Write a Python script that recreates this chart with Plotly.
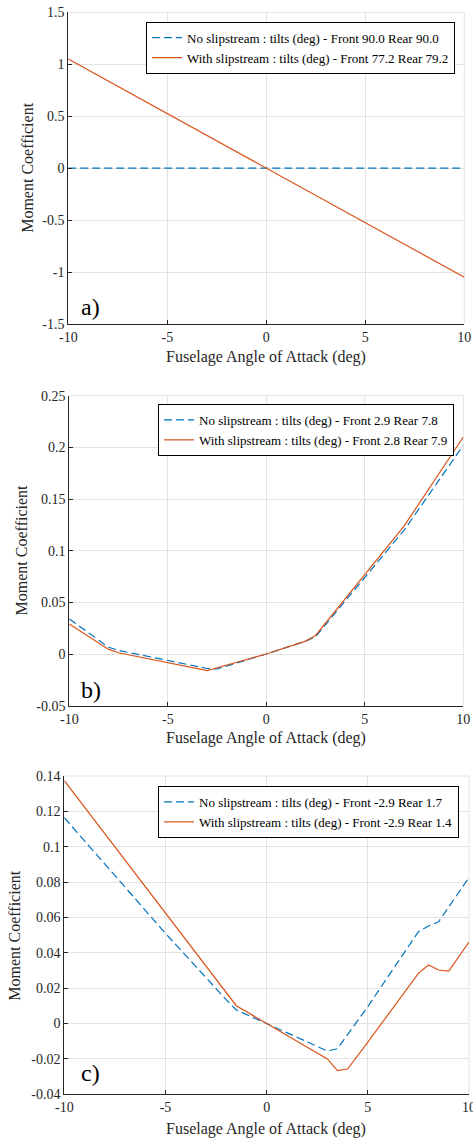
import plotly.graph_objects as go

# ---------------- data ----------------
a_x = [-10, -5, 0, 5, 10]
a_no = [0, 0, 0, 0, 0]
a_with = [1.05, 0.525, 0, -0.525, -1.05]

b_x = [-10, -8, -7.5, -3, -2.5, 0, 2, 2.5, 7, 10]
b_no = [0.034, 0.0065, 0.0035, -0.014, -0.0145, 0, 0.0125, 0.0168, 0.120, 0.202]
b_with = [0.029, 0.0045, 0.0012, -0.016, -0.0133, 0, 0.0125, 0.0180, 0.124, 0.210]

c_x = [-10, -5, -2, -1.5, 0, 2.5, 3, 3.5, 4, 5, 7.5, 8, 8.5, 9, 10]
c_no = [0.1164, 0.051, 0.0135, 0.0077, 0, -0.0129, -0.0155, -0.0142, -0.0063, 0.0096, 0.052, 0.0552, 0.0576, 0.066, 0.0827]
c_with = [0.1374, 0.0625, 0.0176, 0.0101, 0, -0.0164, -0.020, -0.0266, -0.0257, -0.0105, 0.0284, 0.0331, 0.0303, 0.0297, 0.0461]

names_a = ["No slipstream : tilts (deg) - Front 90.0 Rear 90.0",
           "With slipstream : tilts (deg) - Front 77.2 Rear 79.2"]
names_b = ["No slipstream : tilts (deg) - Front 2.9 Rear 7.8",
           "With slipstream : tilts (deg) - Front 2.8 Rear 7.9"]
names_c = ["No slipstream : tilts (deg) - Front -2.9 Rear 1.7",
           "With slipstream : tilts (deg) - Front -2.9 Rear 1.4"]

x_ticks = [-10, -5, 0, 5, 10]
x_ticktext = ["-10", "-5", "0", "5", "10"]
a_yticks = [-1.5, -1, -0.5, 0, 0.5, 1, 1.5]
a_yticktext = ["-1.5", "-1", "-0.5", "0", "0.5", "1", "1.5"]
b_yticks = [-0.05, 0, 0.05, 0.1, 0.15, 0.2, 0.25]
b_yticktext = ["-0.05", "0", "0.05", "0.1", "0.15", "0.2", "0.25"]
c_yticks = [-0.04, -0.02, 0, 0.02, 0.04, 0.06, 0.08, 0.1, 0.12, 0.14]
c_yticktext = ["-0.04", "-0.02", "0", "0.02", "0.04", "0.06", "0.08", "0.1", "0.12", "0.14"]

panel_labels = ["a)", "b)", "c)"]
x_title = "Fuselage Angle of Attack (deg)"
y_title = "Moment Coefficient"

# ---------------- style ----------------
BLUE = "#0072BD"
ORANGE = "#D95319"
AX = "#262626"
GRID = "#e3e3e3"
FONT = "Liberation Serif"

W, H = 473, 1140
panels = [
    dict(x=a_x, no=a_no, wi=a_with, names=names_a, yr=[-1.5, 1.5], yt=a_yticks, ytt=a_yticktext,
         dom_x=[68.3, 464.3], dom_y=[12.3, 324], leg=(455, 21.7), lab=(90, 307),
         xt=(266, 357), yt_pos=(27.5, 168.3)),
    dict(x=b_x, no=b_no, wi=b_with, names=names_b, yr=[-0.05, 0.25], yt=b_yticks, ytt=b_yticktext,
         dom_x=[69.3, 463.3], dom_y=[395.7, 705.7], leg=(454, 404), lab=(91, 690),
         xt=(266, 738), yt_pos=(21.7, 550.7)),
    dict(x=c_x, no=c_no, wi=c_with, names=names_c, yr=[-0.04, 0.14], yt=c_yticks, ytt=c_yticktext,
         dom_x=[64.3, 469], dom_y=[776, 1094.3], leg=(459, 786), lab=(90, 1073),
         xt=(266, 1129), yt_pos=(15, 935.7)),
]

fig = go.Figure()
layout = dict(width=W, height=H, margin=dict(l=0, r=0, t=0, b=0, autoexpand=False),
              paper_bgcolor="white", plot_bgcolor="white",
              font=dict(family=FONT, color=AX, size=14), showlegend=True)
shapes = []
annotations = []

for i, p in enumerate(panels):
    n = i + 1
    sx = "" if n == 1 else str(n)
    lg = "legend" if n == 1 else f"legend{n}"
    fig.add_trace(go.Scatter(x=p["x"], y=p["no"], mode="lines", name=p["names"][0],
                             line=dict(color=BLUE, width=1.2, dash="8px,4px"),
                             xaxis="x" + sx, yaxis="y" + sx, legend=lg))
    fig.add_trace(go.Scatter(x=p["x"], y=p["wi"], mode="lines", name=p["names"][1],
                             line=dict(color=ORANGE, width=1.2),
                             xaxis="x" + sx, yaxis="y" + sx, legend=lg))
    dx = [p["dom_x"][0] / W, p["dom_x"][1] / W]
    dy = [1 - p["dom_y"][1] / H, 1 - p["dom_y"][0] / H]
    layout["xaxis" + sx] = dict(domain=dx, range=[-10, 10], anchor="y" + sx, automargin=False,
                                tickvals=x_ticks, ticktext=x_ticktext, ticklabeloverflow="allow",
                                showgrid=True, gridcolor=GRID, gridwidth=1,
                                zeroline=False, showline=True, linecolor=AX, linewidth=1,
                                ticks="inside", ticklen=4, tickcolor=AX,
                                tickfont=dict(size=14, color=AX, family=FONT))
    layout["yaxis" + sx] = dict(domain=dy, range=p["yr"], anchor="x" + sx, automargin=False,
                                tickvals=p["yt"], ticktext=p["ytt"], ticklabeloverflow="allow",
                                showgrid=True, gridcolor=GRID, gridwidth=1,
                                zeroline=False, showline=True, linecolor=AX, linewidth=1,
                                ticks="inside", ticklen=4, tickcolor=AX,
                                tickfont=dict(size=14, color=AX, family=FONT))
    layout[lg] = dict(x=p["leg"][0] / W, y=1 - p["leg"][1] / H, xanchor="right", yanchor="top",
                      xref="paper", yref="paper",
                      bgcolor="white", bordercolor="#000000", borderwidth=1,
                      font=dict(size=13, color="#000000", family=FONT),
                      tracegroupgap=0, itemwidth=30)
    xr = "x" + sx + " domain"
    yr = "y" + sx + " domain"
    shapes.append(dict(type="line", xref=xr, yref=yr, x0=0, x1=1, y0=1, y1=1,
                       line=dict(color=GRID, width=1), layer="below"))
    shapes.append(dict(type="line", xref=xr, yref=yr, x0=1, x1=1, y0=0, y1=1,
                       line=dict(color=GRID, width=1), layer="below"))
    annotations.append(dict(text=panel_labels[i], xref="paper", yref="paper",
                            x=p["lab"][0] / W, y=1 - p["lab"][1] / H,
                            xanchor="center", yanchor="middle", showarrow=False,
                            font=dict(size=24, color="#000000", family=FONT)))
    annotations.append(dict(text=x_title, xref="paper", yref="paper",
                            x=p["xt"][0] / W, y=1 - p["xt"][1] / H,
                            xanchor="center", yanchor="middle", showarrow=False,
                            font=dict(size=16, color=AX, family=FONT)))
    annotations.append(dict(text=y_title, xref="paper", yref="paper", textangle=-90,
                            x=p["yt_pos"][0] / W, y=1 - p["yt_pos"][1] / H,
                            xanchor="center", yanchor="middle", showarrow=False,
                            font=dict(size=16, color=AX, family=FONT)))

layout["shapes"] = shapes
layout["annotations"] = annotations
fig.update_layout(**layout)
fig.write_html("out.html")
